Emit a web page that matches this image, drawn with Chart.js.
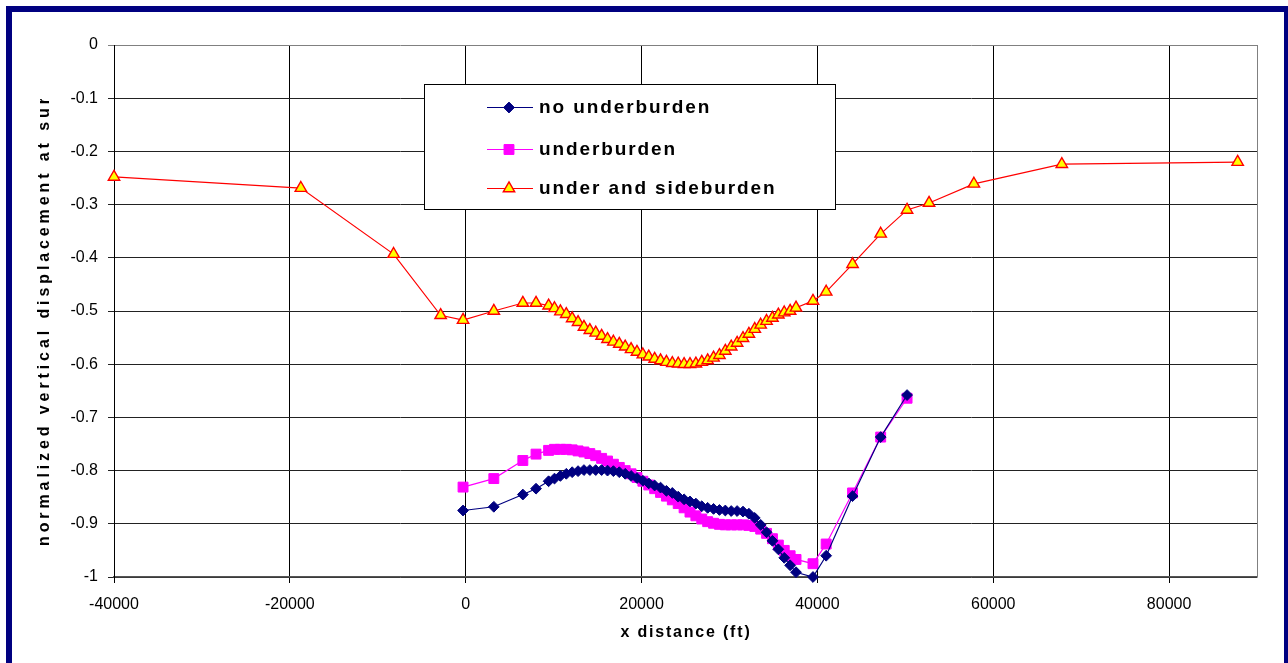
<!DOCTYPE html>
<html>
<head>
<meta charset="utf-8">
<script src="https://cdn.jsdelivr.net/npm/chart.js@4.4.1/dist/chart.umd.min.js"></script>
<style>
  html, body { margin: 0; padding: 0; background: #fff; overflow: hidden; }
  #wrap { position: absolute; left: 0; top: 0; width: 1288px; height: 663px; }
  #frame { position: absolute; left: 6px; top: 6px; width: 1284px; height: 700px;
           box-sizing: border-box; border: 6px solid #000080; pointer-events: none; }
</style>
</head>
<body>
<div id="wrap"><canvas id="chart" width="1288" height="663"></canvas></div>
<div id="frame"></div>
<script>
// x positions (ft) shared by the two model runs
const xModel = [
  -300, 3200, 6500, 8000,
  9430, 10100, 10770, 11440, 12110, 12780, 13450, 14120, 14790, 15460, 16130,
  16800, 17470, 18140, 18810, 19480, 20150, 20820, 21490, 22160, 22830, 23500,
  24170, 24840, 25510, 26180, 26850, 27520, 28190, 28860, 29530, 30200, 30870,
  31540, 32210, 32880, 33550, 34220, 34890, 35560, 36230, 36900, 37570,
  39500, 41000, 44000, 47200, 50200
];
// extra stations only in the sideburden run
const xFarLeft = [-40000, -18750, -8200, -2850];
const xFarRight = [52700, 57800, 67800, 87800];

const noUnderburden = [
  -0.875, -0.868, -0.845, -0.834,
  -0.820, -0.815, -0.810, -0.806, -0.803, -0.801, -0.799, -0.799, -0.799, -0.799, -0.800,
  -0.801, -0.803, -0.806, -0.810, -0.814, -0.819, -0.824, -0.828, -0.832, -0.838, -0.842,
  -0.849, -0.854, -0.858, -0.862, -0.867, -0.870, -0.872, -0.874, -0.875, -0.876, -0.876,
  -0.877, -0.881, -0.889, -0.902, -0.916, -0.932, -0.948, -0.964, -0.978, -0.991,
  -1.000, -0.960, -0.848, -0.737, -0.658
];
const underburden = [
  -0.831, -0.815, -0.781, -0.769,
  -0.762, -0.760, -0.760, -0.760, -0.761, -0.763, -0.765, -0.768, -0.772, -0.777, -0.782,
  -0.788, -0.794, -0.800, -0.806, -0.813, -0.820, -0.827, -0.834, -0.841, -0.848, -0.855,
  -0.862, -0.870, -0.878, -0.885, -0.891, -0.896, -0.899, -0.901, -0.902, -0.902, -0.902,
  -0.902, -0.903, -0.905, -0.910, -0.918, -0.928, -0.940, -0.950, -0.960, -0.967,
  -0.975, -0.938, -0.842, -0.737, -0.664
];
const sideLeft = [-0.248, -0.269, -0.393, -0.508];
const sideModel = [
  -0.517, -0.500, -0.485, -0.485,
  -0.490, -0.495, -0.501, -0.506, -0.514, -0.521, -0.530, -0.536, -0.541, -0.547, -0.553,
  -0.558, -0.562, -0.567, -0.572, -0.577, -0.582, -0.586, -0.590, -0.593, -0.596, -0.598,
  -0.599, -0.600, -0.600, -0.599, -0.596, -0.593, -0.588, -0.583, -0.575, -0.567, -0.560,
  -0.551, -0.543, -0.534, -0.526, -0.519, -0.513, -0.507, -0.503, -0.500, -0.494,
  -0.481, -0.464, -0.412, -0.355, -0.310
];
const sideRight = [-0.297, -0.261, -0.224, -0.220];

const xTickValues = [-40000, -20000, 0, 20000, 40000, 60000, 80000];
const yTickValues = [0, -0.1, -0.2, -0.3, -0.4, -0.5, -0.6, -0.7, -0.8, -0.9, -1];

const seriesNames = ['no underburden', 'underburden', 'under and sideburden'];
const xTitle = 'x distance (ft)';
const yTitle = 'normalized vertical displacement at surface';

const pts = (xs, ys) => xs.map((x, i) => ({ x: x, y: ys[i] }));
const xSide = xFarLeft.concat(xModel, xFarRight);
const ySide = sideLeft.concat(sideModel, sideRight);

const FONT = '"Liberation Sans", Arial, sans-serif';

const styles = [
  { borderColor: '#000080', backgroundColor: '#000080', pointStyle: 'rectRot', pointRadius: 5.4, pointBorderWidth: 1 },
  { borderColor: '#FF00FF', backgroundColor: '#FF00FF', pointStyle: 'rect', pointRadius: 7, pointBorderWidth: 1 },
  { borderColor: '#FF0000', backgroundColor: '#FFFF00', pointStyle: 'triangle', pointRadius: 6.6, pointBorderWidth: 1.4 }
];

// legend, axis titles and plot frame drawn by hand
const decor = {
  id: 'decor',
  afterDraw(chart) {
    const ctx = chart.ctx;
    const a = chart.chartArea;
    ctx.save();
    // right edge of plot area
    ctx.strokeStyle = '#808080';
    ctx.lineWidth = 1;
    ctx.beginPath();
    ctx.moveTo(Math.round(a.right) + 0.5, a.top);
    ctx.lineTo(Math.round(a.right) + 0.5, a.bottom);
    ctx.stroke();

    // legend box
    ctx.fillStyle = '#fff';
    ctx.fillRect(424, 84, 411, 125);
    ctx.strokeStyle = '#000';
    ctx.strokeRect(424.5, 84.5, 411, 125);
    const rows = [107, 149, 188];
    ctx.font = 'bold 19px ' + FONT;
    ctx.letterSpacing = '1.9px';
    ctx.textBaseline = 'middle';
    ctx.textAlign = 'left';
    rows.forEach((ry, i) => {
      const s = styles[i];
      ctx.strokeStyle = s.borderColor;
      ctx.lineWidth = 1.2;
      ctx.beginPath();
      ctx.moveTo(487, ry + 0.5);
      ctx.lineTo(533, ry + 0.5);
      ctx.stroke();
      ctx.fillStyle = s.backgroundColor;
      ctx.lineWidth = s.pointBorderWidth;
      Chart.helpers.drawPoint(ctx, { pointStyle: s.pointStyle, radius: s.pointRadius, borderWidth: s.pointBorderWidth, rotation: 0 }, 509, ry + 0.5);
      ctx.fillStyle = '#000';
      ctx.fillText(seriesNames[i], 539, ry + 1);
    });

    // x title
    ctx.font = 'bold 16px ' + FONT;
    ctx.letterSpacing = '1.8px';
    ctx.textAlign = 'center';
    ctx.fillText(xTitle, 686, 633);

    // y title, cut off at the top like the original sheet
    ctx.beginPath();
    ctx.rect(20, 99, 60, 500);
    ctx.clip();
    ctx.translate(45, 546);
    ctx.rotate(-Math.PI / 2);
    ctx.textAlign = 'left';
    ctx.font = 'bold 16px ' + FONT;
    ctx.letterSpacing = '3.9px';
    ctx.fillText(yTitle, 0, 0);
    ctx.restore();
  }
};

new Chart(document.getElementById('chart'), {
  type: 'line',
  data: {
    datasets: [
      Object.assign({ label: seriesNames[0], data: pts(xModel, noUnderburden), order: 1 }, styles[0]),
      Object.assign({ label: seriesNames[1], data: pts(xModel, underburden), order: 2 }, styles[1]),
      Object.assign({ label: seriesNames[2], data: pts(xSide, ySide), order: 3 }, styles[2])
    ].map(d => Object.assign(d, {
      borderWidth: 1.2,
      pointBackgroundColor: d.backgroundColor,
      pointBorderColor: d.borderColor,
      tension: 0,
      fill: false,
      clip: false
    }))
  },
  options: {
    responsive: false,
    animation: false,
    devicePixelRatio: 1,
    layout: { padding: { left: 0, top: 45, right: 31, bottom: 0 } },
    plugins: { legend: { display: false }, tooltip: { enabled: false } },
    scales: {
      x: {
        type: 'linear',
        min: -40000,
        max: 90000,
        afterFit: s => { s.height = 86; },
        afterBuildTicks: s => { s.ticks = xTickValues.map(v => ({ value: v })); },
        ticks: {
          maxRotation: 0,
          padding: 12,
          color: '#000',
          font: { family: FONT, size: 16 },
          callback: v => String(v)
        },
        grid: { color: '#000', lineWidth: 1, tickLength: 6 },
        border: { color: '#555', width: 1.5 }
      },
      y: {
        type: 'linear',
        min: -1,
        max: 0,
        afterFit: s => { s.width = 114; },
        afterBuildTicks: s => { s.ticks = yTickValues.map(v => ({ value: v })); },
        ticks: {
          padding: 10,
          color: '#000',
          font: { family: FONT, size: 16 },
          callback: v => String(v)
        },
        grid: {
          color: c => (c.tick && c.tick.value === 0) ? '#808080' : '#222',
          lineWidth: 1,
          tickLength: 6
        },
        border: { color: '#000', width: 1 }
      }
    }
  },
  plugins: [decor]
});
</script>
</body>
</html>
